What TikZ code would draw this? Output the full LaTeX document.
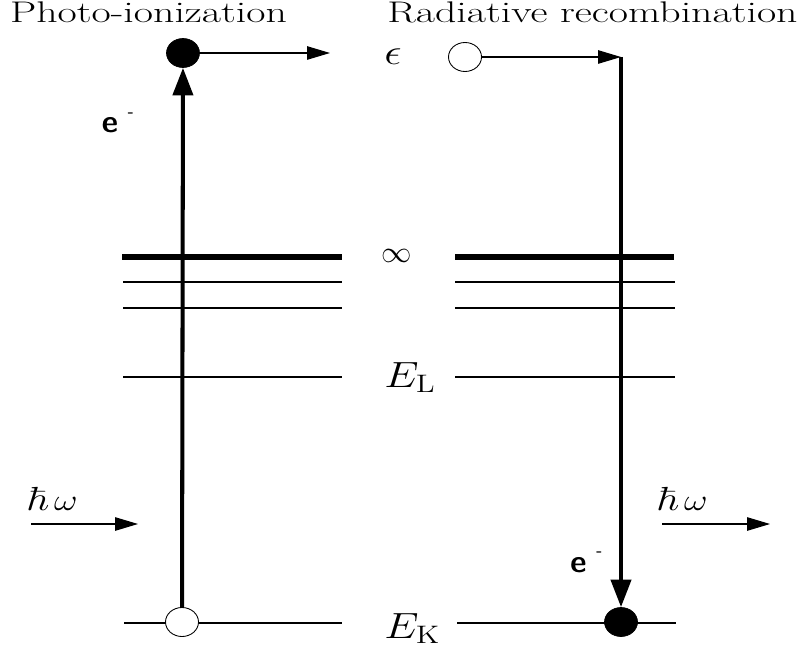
\documentclass[tikz,border=0pt]{standalone}
\usepackage{amsmath, amsfonts, amssymb}
\usepackage{tikz}
\usetikzlibrary{arrows.meta}
\usetikzlibrary{shapes.geometric}

\begin{document}
\begin{tikzpicture}[
	level/.style={line width=0.6pt},
	toplevel/.style={line width=3pt},
	elfull/.style={ellipse, fill=black, draw=black, minimum width=0.66cm, minimum height=0.58cm, inner sep=0pt},
	elempty/.style={ellipse, fill=white, draw=black, line width=0.5pt, minimum width=0.66cm, minimum height=0.58cm, inner sep=0pt},
	thinarrow/.style={line width=0.6pt, -{Triangle[length=0.46cm, width=0.27cm]}},
	thickarrow/.style={line width=2.3pt, -{Triangle[length=0.55cm, width=0.4cm]}},
	txt/.style={font=\fontsize{17}{20}\selectfont, xscale=1.4, inner sep=0pt},
	mathtxt/.style={font=\fontsize{21}{25}\selectfont, xscale=1.2, inner sep=0pt},
	eltxt/.style={font=\fontsize{18}{21}\selectfont\sffamily\bfseries, inner sep=0pt}
	]
	
	\useasboundingbox (0,0) rectangle (16.06,13.04);
	
	\coordinate (topend) at (6.6,11.98);
	\coordinate (corner) at (12.42,11.9);
	\coordinate (hwLa) at (0.62,2.56);
	\coordinate (hwLb) at (2.76,2.56);
	\coordinate (hwRa) at (13.24,2.56);
	\coordinate (hwRb) at (15.4,2.56);
	
	% energy levels
	\draw[toplevel] (2.44,7.9) -- (6.84,7.9);
	\draw[toplevel] (9.1,7.9) -- (13.48,7.9);
	\draw[level] (2.46,7.4) -- (6.84,7.4);
	\draw[level] (9.1,7.4) -- (13.5,7.4);
	\draw[level] (2.46,6.88) -- (6.84,6.88);
	\draw[level] (9.1,6.88) -- (13.5,6.88);
	\draw[level] (2.46,5.5) -- (6.84,5.5);
	\draw[level] (9.1,5.5) -- (13.5,5.5);
	\draw[level] (2.48,0.58) -- (6.84,0.58);
	\draw[level] (9.14,0.58) -- (13.52,0.58);
	
	\node[elfull] (ion) at (3.66,11.98) {};
	\node[elempty] (hole) at (3.64,0.6) {};
	\node[elempty] (free) at (9.3,11.9) {};
	\node[elfull] (bound) at (12.42,0.6) {};
	
	\draw[thickarrow] (hole) -- (ion);
	\draw[thinarrow] (ion) -- (topend);
	\draw[thinarrow] (free) -- (corner);
	\draw[thickarrow] (corner) -- (bound);
	
	\draw[thinarrow] (hwLa) -- (hwLb);
	\draw[thinarrow] (hwRa) -- (hwRb);
	
	\node[txt, anchor=base] (titleL) at (2.97,12.58) {Photo-ionization};
	\node[txt, anchor=base] (titleR) at (11.85,12.58) {Radiative recombination};
	
	\node[mathtxt] (eps) at (7.86,11.9) {$\epsilon$};
	\node[font=\fontsize{17}{20}\selectfont, inner sep=0pt] (inf) at (7.94,7.92) {$\infty$};
	\node[mathtxt, anchor=base west] (EL) at (7.68,5.3) {$E_{\mathrm{L}}$};
	\node[mathtxt, anchor=base west] (EK) at (7.68,0.28) {$E_{\mathrm{K}}$};
	\node[mathtxt, font=\fontsize{19}{23}\selectfont, anchor=base west] (hwL) at (0.52,2.84) {$\hbar\,\omega$};
	\node[mathtxt, font=\fontsize{19}{23}\selectfont, anchor=base west] (hwR) at (13.12,2.84) {$\hbar\,\omega$};
	
	\node[eltxt, anchor=base west] (eL) at (2.03,10.38) {e\hspace{0.3em}\raisebox{0.5em}{\fontsize{10}{10}\selectfont -}};
	\node[eltxt, anchor=base west] (eR) at (11.4,1.6) {e\hspace{0.3em}\raisebox{0.5em}{\fontsize{10}{10}\selectfont -}};
	
\end{tikzpicture}
\end{document}
